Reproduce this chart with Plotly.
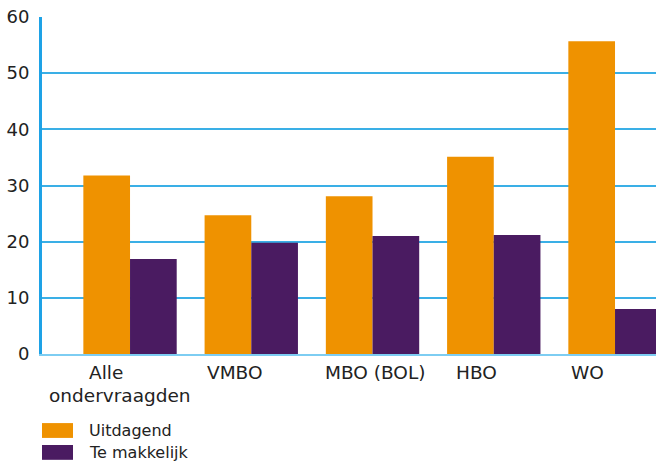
import plotly.graph_objects as go

categories = ["Alle ondervraagden", "VMBO", "MBO (BOL)", "HBO", "WO"]
uitdagend = [31.8, 24.7, 28.1, 35.1, 55.7]
te_makkelijk = [16.9, 19.8, 21.0, 21.2, 8.0]
y_ticks = [0, 10, 20, 30, 40, 50, 60]

# category labels as printed under the bars (lines) and their left offset in px
tick_lines = [["Alle", "ondervraagden"], ["VMBO"], ["MBO (BOL)"], ["HBO"], ["WO"]]
tick_shifts = [[-43, -83], [-46], [-50], [-40], [-46]]

ORANGE = "#ef9200"
PURPLE = "#4a1b61"
GRID = "#3aafe6"
AXIS = "#1ea2e6"
FONT = "DejaVu Sans"
TEXT = "#222222"

fig = go.Figure()
fig.add_trace(go.Bar(x=categories, y=uitdagend, name="Uitdagend",
                     marker=dict(color=ORANGE, line=dict(width=0))))
fig.add_trace(go.Bar(x=categories, y=te_makkelijk, name="Te makkelijk",
                     marker=dict(color=PURPLE, line=dict(width=0))))

fig.update_layout(
    width=656, height=461,
    margin=dict(l=42, r=0, t=17, b=107),
    paper_bgcolor="white", plot_bgcolor="white",
    barmode="group", bargap=0.23, bargroupgap=0,
    showlegend=False,
    font=dict(family=FONT, size=18, color=TEXT),
)
fig.update_xaxes(
    range=[-0.726, 4.338], showgrid=False, automargin=False,
    showline=True, linecolor="#7dcdf2", linewidth=2,
    ticks="", showticklabels=False,
)
fig.update_yaxes(
    range=[0, 60], tickvals=y_ticks, automargin=False,
    showgrid=True, gridcolor=GRID, gridwidth=2,
    showline=True, linecolor=AXIS, linewidth=3,
    zeroline=False, ticks="", ticklabelstandoff=6,
    tickfont=dict(size=18),
)

# category labels
for cat, lines, shifts in zip(categories, tick_lines, tick_shifts):
    for j, (line, shift) in enumerate(zip(lines, shifts)):
        fig.add_annotation(x=cat, xref="x", yref="paper", y=-0.056 - j * 0.066,
                           text=line, showarrow=False, xanchor="left",
                           yanchor="middle", xshift=shift,
                           font=dict(size=18.5, family=FONT, color=TEXT))

# legend drawn beneath the plot, as in the original
legend_items = [("Uitdagend", ORANGE), ("Te makkelijk", PURPLE)]
for i, (label, color) in enumerate(legend_items):
    top = -0.205 - i * 0.065
    fig.add_shape(type="rect", xref="paper", yref="paper",
                  x0=0, x1=0.0505, y0=top - 0.044, y1=top,
                  fillcolor=color, line=dict(width=0))
    fig.add_annotation(xref="paper", yref="paper", x=0.0733, y=top - 0.022,
                       text=label, showarrow=False, xanchor="left",
                       yanchor="middle", font=dict(size=16, family=FONT, color=TEXT))

# the page's default body margin would push the figure 8px down and right
fig.write_html("out.html", config={"displayModeBar": False},
               post_script="document.body.style.margin = '0';")
